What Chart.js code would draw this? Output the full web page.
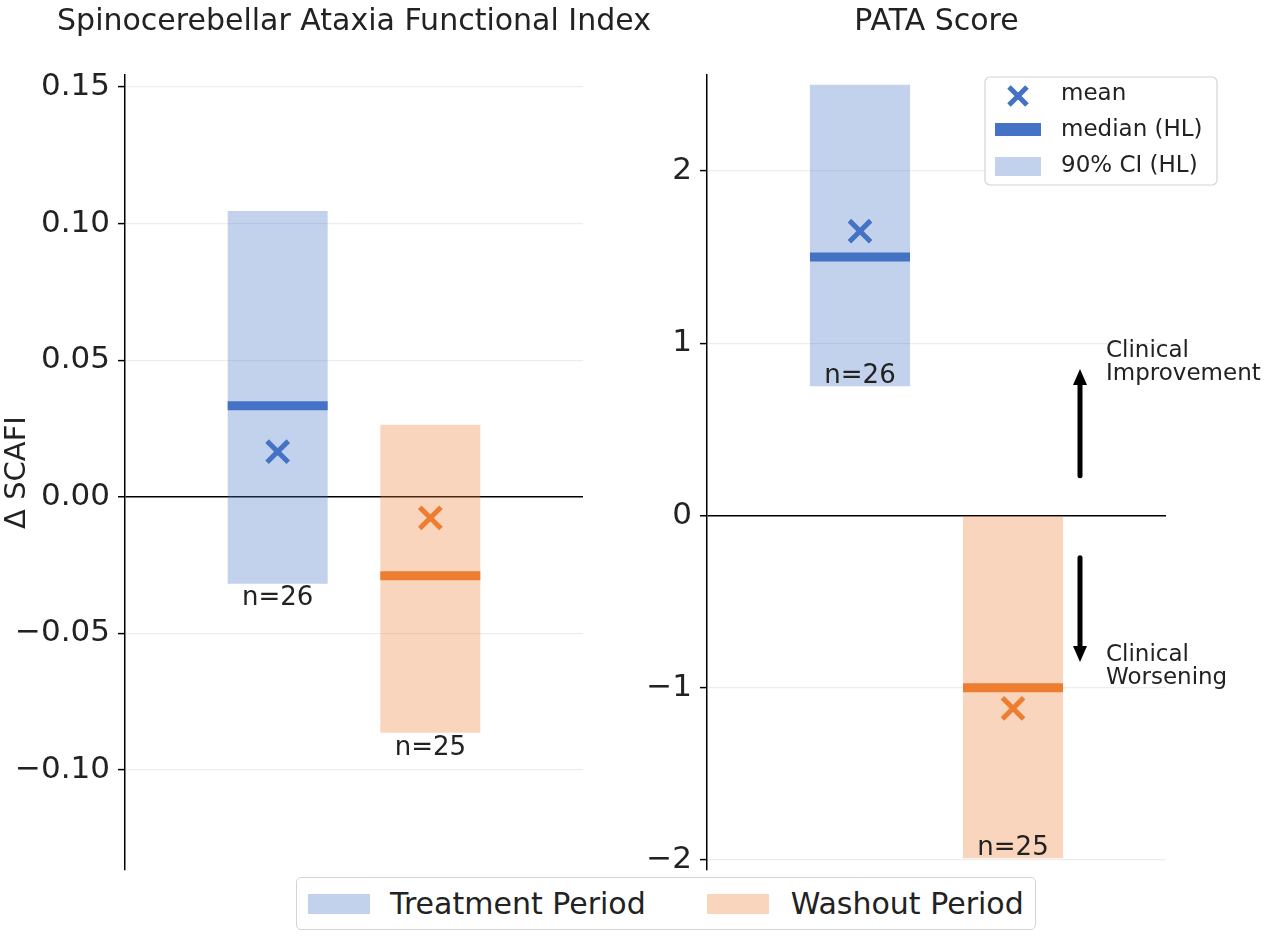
<!DOCTYPE html>
<html>
<head>
<meta charset="utf-8">
<script src="https://cdn.jsdelivr.net/npm/chart.js@4.4.1/dist/chart.umd.min.js"></script>
<style>
    body { margin: 0; background: #fff; font-family: 'DejaVu Sans', sans-serif; }
    #wrap { position: relative; width: 1280px; height: 952px; overflow: hidden; }
    #chartScafi { position: absolute; left: 0; top: 0; }
    #chartPata { position: absolute; left: 600px; top: 0; }
    #legenda-periodos {
        position: absolute; left: 296px; top: 877px; width: 738px; height: 51px;
        border: 1px solid #d4d4d4; border-radius: 5px; background: #fff;
        display: flex; align-items: center; font-size: 30px; color: #222;
    }
    .swatch { width: 62px; height: 20px; display: inline-block; }
</style>
</head>
<body>
<div id="wrap">
    <canvas id="chartScafi" width="680" height="880"></canvas>
    <canvas id="chartPata" width="680" height="880"></canvas>
    <div id="legenda-periodos">
        <span class="swatch" style="margin-left:11px; background: rgba(68,114,196,0.32);"></span>
        <span style="margin-left:20px;">Treatment Period</span>
        <span class="swatch" style="margin-left:61px; background: rgba(237,125,49,0.32);"></span>
        <span style="margin-left:22px;">Washout Period</span>
    </div>
</div>
<script>
// dados
const periodos = ['Treatment Period', 'Washout Period'];
const nAmostra = [26, 25];

const scafiMedia = [0.0165, -0.0077];
const scafiMediana = [0.0333, -0.0289];
const scafiIcInf = [-0.0318, -0.0864];
const scafiIcSup = [0.1046, 0.0264];

const pataMedia = [1.65, -1.12];
const pataMediana = [1.50, -1.00];
const pataIcInf = [0.75, -1.99];
const pataIcSup = [2.50, 0.00];

const azul = '#4472C4';
const laranja = '#ED7D31';
const azulClaro = 'rgba(68, 114, 196, 0.32)';
const laranjaClaro = 'rgba(237, 125, 49, 0.32)';
const corTexto = '#222';

// posicoes: vazio | treatment | washout | vazio  (equivale a xlim -1..2)
function slot(i, v) {
    const arr = [null, null, null, null];
    arr[i + 1] = v;
    return arr;
}

const tituloPainel = {
    id: 'tituloPainel',
    afterDraw(chart, args, opts) {
        const { ctx, chartArea } = chart;
        ctx.save();
        ctx.font = '30px "DejaVu Sans"';
        ctx.fillStyle = corTexto;
        ctx.textAlign = 'center';
        ctx.textBaseline = 'middle';
        ctx.fillText(opts.text, (chartArea.left + chartArea.right) / 2, 22);
        ctx.restore();
    }
};

const rotuloN = {
    id: 'rotuloN',
    afterDatasetsDraw(chart, args, opts) {
        const { ctx } = chart;
        ctx.save();
        ctx.font = '26px "DejaVu Sans"';
        ctx.fillStyle = corTexto;
        ctx.textAlign = 'center';
        [0, 1].forEach(i => {
            const bar = chart.getDatasetMeta(i).data[i + 1];
            if (!bar) return;
            const base = Math.max(bar.y, bar.base);
            if (opts.dentro) {
                ctx.textBaseline = 'alphabetic';
                ctx.fillText('n=' + nAmostra[i], bar.x, base - 3);
            } else {
                ctx.textBaseline = 'top';
                ctx.fillText('n=' + nAmostra[i], bar.x, base + 2);
            }
        });
        ctx.restore();
    }
};

const legendaInterna = {
    id: 'legendaInterna',
    afterDraw(chart) {
        const { ctx } = chart;
        const x0 = 385, y0 = 77, w = 232, h = 108;
        ctx.save();
        ctx.fillStyle = 'rgba(255,255,255,0.85)';
        ctx.strokeStyle = '#d4d4d4';
        ctx.lineWidth = 1.2;
        ctx.beginPath();
        ctx.roundRect(x0, y0, w, h, 5);
        ctx.fill();
        ctx.stroke();

        // mean
        ctx.strokeStyle = azul;
        ctx.lineWidth = 5;
        const mx = 418, my = 96, r = 9;
        ctx.beginPath();
        ctx.moveTo(mx - r, my - r); ctx.lineTo(mx + r, my + r);
        ctx.moveTo(mx + r, my - r); ctx.lineTo(mx - r, my + r);
        ctx.stroke();
        // median
        ctx.fillStyle = azul;
        ctx.fillRect(395, 123, 46, 13);
        // ci
        ctx.fillStyle = azulClaro;
        ctx.fillRect(395, 157, 46, 19);

        ctx.font = '23px "DejaVu Sans"';
        ctx.fillStyle = corTexto;
        ctx.textAlign = 'left';
        ctx.textBaseline = 'middle';
        ctx.fillText('mean', 461, 94);
        ctx.fillText('median (HL)', 461, 130);
        ctx.fillText('90% CI (HL)', 461, 166);
        ctx.restore();
    }
};

const setasClinicas = {
    id: 'setasClinicas',
    afterDraw(chart) {
        const { ctx, chartArea } = chart;
        const y = chart.scales.y;
        const x = chartArea.right - 86;
        const seta = (v0, v1) => {
            const p0 = y.getPixelForValue(v0), p1 = y.getPixelForValue(v1);
            const dir = p1 < p0 ? -1 : 1;
            ctx.beginPath();
            ctx.moveTo(x, p0);
            ctx.lineTo(x, p1 - dir * 12);
            ctx.stroke();
            ctx.beginPath();
            ctx.moveTo(x, p1);
            ctx.lineTo(x - 7, p1 - dir * 16);
            ctx.lineTo(x + 7, p1 - dir * 16);
            ctx.closePath();
            ctx.fill();
            return p1;
        };
        ctx.save();
        ctx.strokeStyle = '#000';
        ctx.fillStyle = '#000';
        ctx.lineWidth = 5;
        ctx.lineCap = 'round';
        const topo = seta(0.23, 0.85);
        const baixo = seta(-0.245, -0.85);
        ctx.font = '23px "DejaVu Sans"';
        ctx.fillStyle = corTexto;
        ctx.textAlign = 'left';
        ctx.textBaseline = 'middle';
        ctx.fillText('Clinical', x + 26, topo - 18);
        ctx.fillText('Improvement', x + 26, topo + 5);
        ctx.fillText('Clinical', x + 26, baixo - 7);
        ctx.fillText('Worsening', x + 26, baixo + 16);
        ctx.restore();
    }
};

function fmtScafi(v) {
    if (Math.abs(v) < 1e-9) return '0.00';
    return (v < 0 ? '\u2212' : '') + Math.abs(v).toFixed(2);
}
function fmtPata(v) {
    if (Math.abs(v) < 1e-9) return '0';
    return (v < 0 ? '\u2212' : '') + Math.abs(v).toFixed(0);
}

function montarGrafico(canvasId, cfg) {
    const ctx = document.getElementById(canvasId).getContext('2d');
    return new Chart(ctx, {
        type: 'bar',
        data: {
            labels: ['', periodos[0], periodos[1], ''],
            datasets: [
                {
                    label: periodos[0],
                    data: slot(0, [cfg.icInf[0], cfg.icSup[0]]),
                    backgroundColor: azulClaro,
                    grouped: false,
                    barPercentage: 0.655,
                    categoryPercentage: 1,
                    order: 3
                },
                {
                    label: periodos[1],
                    data: slot(1, [cfg.icInf[1], cfg.icSup[1]]),
                    backgroundColor: laranjaClaro,
                    grouped: false,
                    barPercentage: 0.655,
                    categoryPercentage: 1,
                    order: 3
                },
                {
                    type: 'line',
                    label: 'median (HL)',
                    data: [null, cfg.mediana[0], cfg.mediana[1], null],
                    showLine: false,
                    pointStyle: 'line',
                    pointRadius: 50,
                    pointBorderWidth: 9,
                    pointBorderColor: [null, azul, laranja, null],
                    order: 2
                },
                {
                    type: 'line',
                    label: 'mean',
                    data: [null, cfg.media[0], cfg.media[1], null],
                    showLine: false,
                    pointStyle: 'crossRot',
                    pointRadius: 15,
                    pointBorderWidth: 5,
                    pointBorderColor: [null, azul, laranja, null],
                    order: 1
                }
            ]
        },
        options: {
            responsive: false,
            animation: false,
            events: [],
            layout: { padding: cfg.padding, autoPadding: false },
            plugins: {
                legend: { display: false },
                tooltip: { enabled: false },
                tituloPainel: { text: cfg.titulo },
                rotuloN: { dentro: cfg.nDentro }
            },
            scales: {
                x: {
                    type: 'category',
                    display: false,
                    offset: false
                },
                y: {
                    min: cfg.min,
                    max: cfg.max,
                    afterFit: (scale) => {
                        scale.width = cfg.larguraEixo;
                        scale.paddingTop = 0;
                        scale.paddingBottom = 0;
                    },
                    border: { display: true, color: '#000', width: 1.5 },
                    grid: {
                        color: (c) => (c.tick && Math.abs(c.tick.value) < 1e-9) ? '#000' : 'rgba(0,0,0,0.07)',
                        lineWidth: (c) => (c.tick && Math.abs(c.tick.value) < 1e-9) ? 1.5 : 1.2,
                        tickColor: '#000',
                        tickWidth: 1.5,
                        tickLength: 7
                    },
                    ticks: {
                        stepSize: cfg.passo,
                        includeBounds: false,
                        padding: 8,
                        color: corTexto,
                        font: { family: 'DejaVu Sans', size: 31 },
                        callback: cfg.formato
                    },
                    title: {
                        display: !!cfg.tituloEixo,
                        text: cfg.tituloEixo,
                        color: corTexto,
                        font: { family: 'DejaVu Sans', size: 29 },
                        padding: { top: 0, bottom: 0 }
                    }
                }
            }
        },
        plugins: cfg.plugins
    });
}

montarGrafico('chartScafi', {
    titulo: 'Spinocerebellar Ataxia Functional Index',
    tituloEixo: '\u0394 SCAFI',
    media: scafiMedia, mediana: scafiMediana, icInf: scafiIcInf, icSup: scafiIcSup,
    min: -0.1366, max: 0.1544, passo: 0.05,
    formato: fmtScafi,
    larguraEixo: 125,
    padding: { top: 75, right: 97, bottom: 10, left: 0 },
    nDentro: false,
    plugins: [tituloPainel, rotuloN]
});

montarGrafico('chartPata', {
    titulo: 'PATA Score',
    tituloEixo: '',
    media: pataMedia, mediana: pataMediana, icInf: pataIcInf, icSup: pataIcSup,
    min: -2.058, max: 2.557, passo: 1,
    formato: fmtPata,
    larguraEixo: 107,
    padding: { top: 75, right: 114, bottom: 10, left: 0 },
    nDentro: true,
    plugins: [tituloPainel, rotuloN, legendaInterna, setasClinicas]
});
</script>
</body>
</html>
